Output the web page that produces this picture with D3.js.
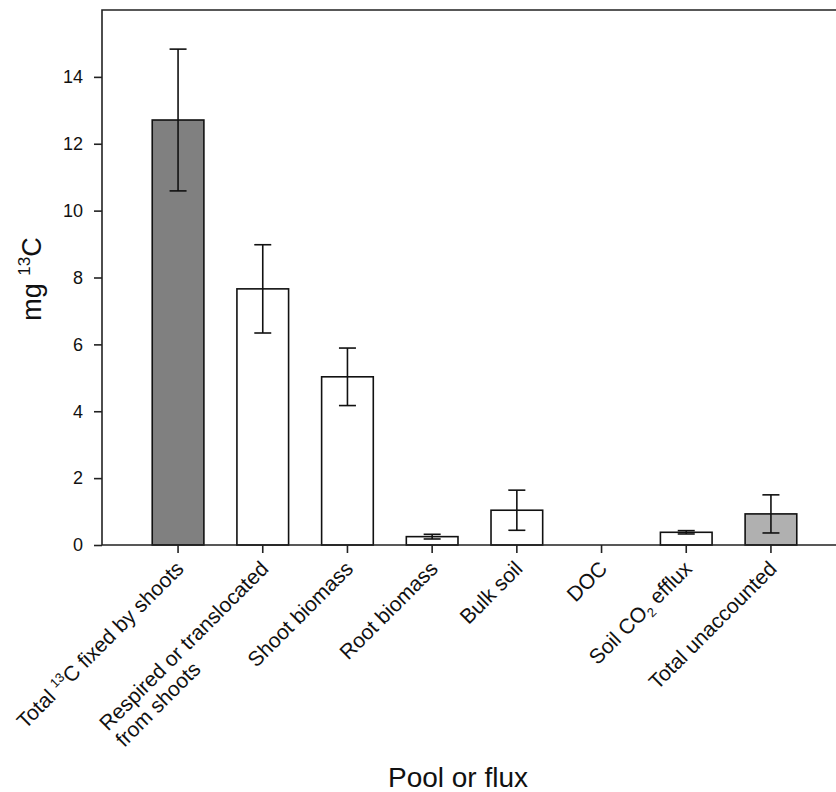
<!DOCTYPE html>
<html>
<head>
<meta charset="utf-8">
<script src="https://cdn.jsdelivr.net/npm/d3@7"></script>
<style>
  html, body { margin: 0; padding: 0; background: #fff; }
  svg { display: block; font-family: Arial, "Liberation Sans", sans-serif; }
</style>
</head>
<body>
<div id="chart"></div>
<script>
// pools / fluxes, in plotting order
const categories = [
  "Total 13C fixed by shoots",
  "Respired or translocated from shoots",
  "Shoot biomass",
  "Root biomass",
  "Bulk soil",
  "DOC",
  "Soil CO2 efflux",
  "Total unaccounted",
];
// mean mg 13C and standard error
const values = [12.71, 7.66, 5.03, 0.25, 1.04, 0, 0.38, 0.93];
const errors = [2.12, 1.32, 0.86, 0.07, 0.6, 0, 0.05, 0.57];
const yTicks = [0, 2, 4, 6, 8, 10, 12, 14];

// tick label text, split in lines and super/subscript runs
const tickLabels = [
  [[["Total "], ["13", "sup"], ["C fixed by shoots"]]],
  [[["Respired or translocated"]], [["from shoots"]]],
  [[["Shoot biomass"]]],
  [[["Root biomass"]]],
  [[["Bulk soil"]]],
  [[["DOC"]]],
  [[["Soil CO"], ["2", "sub"], [" efflux"]]],
  [[["Total unaccounted"]]],
];

const width = 836;
const height = 792;
const margin = { top: 10, left: 102, bottom: 545 };
const plotRight = 847; // the frame runs past the right edge of the picture

const fillFor = (cat) =>
  cat === categories[0] ? "#808080" : cat === categories[7] ? "#b0b0b0" : "#ffffff";

const svg = d3
  .select("#chart")
  .append("svg")
  .attr("width", width)
  .attr("height", height);

const x = d3
  .scaleBand()
  .domain(categories)
  .range([margin.left, plotRight])
  .paddingInner(0.39)
  .paddingOuter(0.593);

const y = d3.scaleLinear().domain([0, 16]).range([margin.bottom, margin.top]);

// bars
svg
  .append("g")
  .selectAll("rect")
  .data(categories.filter((c, i) => values[i] > 0))
  .join("rect")
  .attr("x", (d) => x(d))
  .attr("width", x.bandwidth())
  .attr("y", (d) => y(values[categories.indexOf(d)]))
  .attr("height", (d) => y(0) - y(values[categories.indexOf(d)]))
  .attr("fill", (d) => fillFor(d))
  .attr("stroke", "#111")
  .attr("stroke-width", 1.6);

// error bars
const capHalf = 8.5;
const errG = svg
  .append("g")
  .attr("stroke", "#111")
  .attr("stroke-width", 1.6)
  .selectAll("g")
  .data(categories.filter((c, i) => errors[i] > 0))
  .join("g");

errG
  .append("line")
  .attr("x1", (d) => x(d) + x.bandwidth() / 2)
  .attr("x2", (d) => x(d) + x.bandwidth() / 2)
  .attr("y1", (d) => y(values[categories.indexOf(d)] - errors[categories.indexOf(d)]))
  .attr("y2", (d) => y(values[categories.indexOf(d)] + errors[categories.indexOf(d)]));

[-1, 1].forEach((s) => {
  errG
    .append("line")
    .attr("x1", (d) => x(d) + x.bandwidth() / 2 - capHalf)
    .attr("x2", (d) => x(d) + x.bandwidth() / 2 + capHalf)
    .attr("y1", (d) => y(values[categories.indexOf(d)] + s * errors[categories.indexOf(d)]))
    .attr("y2", (d) => y(values[categories.indexOf(d)] + s * errors[categories.indexOf(d)]));
});

// frame: left, top, bottom
const frame = svg.append("g").attr("stroke", "#222").attr("stroke-width", 1.6).attr("fill", "none");
frame
  .append("path")
  .attr("d", `M${plotRight},${margin.top}H${margin.left}V${margin.bottom}H${plotRight}`);

// y axis
const yAxis = svg
  .append("g")
  .attr("transform", `translate(${margin.left},0)`)
  .call(d3.axisLeft(y).tickValues(yTicks).tickSize(8).tickPadding(11));
yAxis.select(".domain").remove();
yAxis.selectAll("line").attr("stroke", "#222").attr("stroke-width", 1.6);
yAxis
  .selectAll("text")
  .attr("fill", "#111")
  .style("font-size", "18px")
  .style("font-family", "Arial, 'Liberation Sans', sans-serif");

// x axis ticks
const xAxis = svg
  .append("g")
  .attr("transform", `translate(0,${margin.bottom})`)
  .call(d3.axisBottom(x).tickSize(8).tickFormat(""));
xAxis.select(".domain").remove();
xAxis.selectAll("line").attr("stroke", "#222").attr("stroke-width", 1.6);

// rotated category labels: lines left-aligned, block ends at the tick
const labelSize = 21;
const lineHeight = 23;
categories.forEach((cat, i) => {
  const g = svg
    .append("g")
    .attr("transform", `translate(${x(cat) + x.bandwidth() / 2 + 7},570) rotate(-45)`);
  const lines = tickLabels[i].map((runs, li) => {
    const t = g
      .append("text")
      .attr("y", li * lineHeight)
      .attr("dy", "0.71em")
      .attr("fill", "#111")
      .style("font-size", labelSize + "px");
    let shift = 0;
    runs.forEach(([txt, kind]) => {
      const target = kind === "sup" ? -8 : kind === "sub" ? 5 : 0;
      t.append("tspan")
        .attr("dy", target - shift)
        .style("font-size", kind ? "13px" : null)
        .text(txt);
      shift = target;
    });
    return t;
  });
  const maxW = d3.max(lines, (t) => t.node().getComputedTextLength());
  lines.forEach((t) => t.attr("x", -maxW));
});

// axis titles
svg
  .append("text")
  .attr("x", 458)
  .attr("y", 787)
  .attr("text-anchor", "middle")
  .attr("fill", "#111")
  .style("font-size", "28px")
  .text("Pool or flux");

const yTitle = svg
  .append("text")
  .attr("transform", "translate(41,279) rotate(-90)")
  .attr("text-anchor", "middle")
  .attr("fill", "#111")
  .style("font-size", "27px");
yTitle.append("tspan").text("mg ");
yTitle.append("tspan").attr("dy", -11).style("font-size", "17px").text("13");
yTitle.append("tspan").attr("dy", 11).text("C");
</script>
</body>
</html>
